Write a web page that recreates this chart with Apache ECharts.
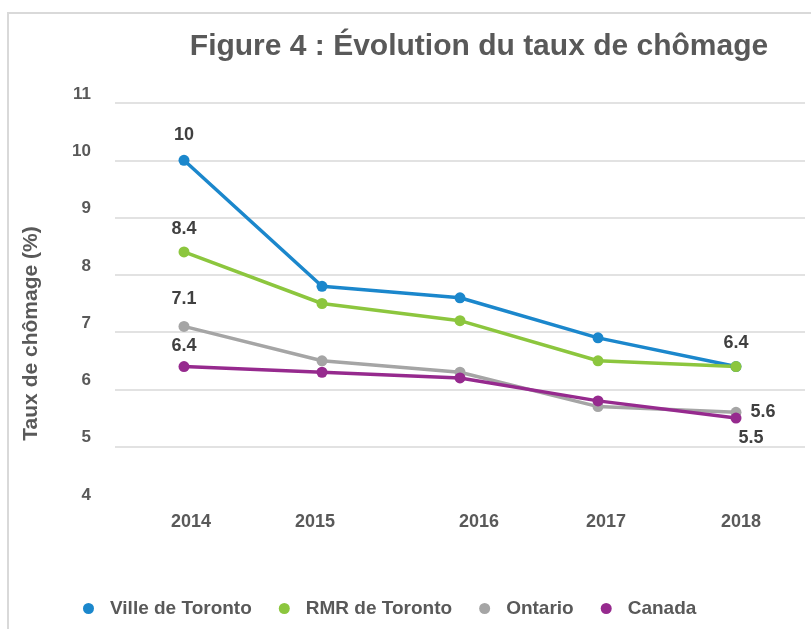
<!DOCTYPE html>
<html>
<head>
<meta charset="utf-8">
<script src="https://cdn.jsdelivr.net/npm/echarts@6/dist/echarts.min.js"></script>
<style>
  html, body { margin: 0; padding: 0; background: #fff; }
  #chart { width: 811px; height: 629px; }
</style>
</head>
<body>
<div id="chart"></div>
<script>
const years = ['2014', '2015', '2016', '2017', '2018'];
const villeToronto = [10, 7.8, 7.6, 6.9, 6.4];
const rmrToronto = [8.4, 7.5, 7.2, 6.5, 6.4];
const ontario = [7.1, 6.5, 6.3, 5.7, 5.6];
const canada = [6.4, 6.3, 6.2, 5.8, 5.5];
const yTicks = [4, 5, 6, 7, 8, 9, 10, 11];

const font = '"Liberation Sans", Arial, sans-serif';
const labelStyle = { show: true, color: '#404040', fontSize: 18, fontWeight: 'bold', fontFamily: font };

// year labels in the original sit a little off their points
const xShift = [7, -7, 19, 8, 5];
const xRich = {};
xShift.forEach((s, i) => {
    xRich['p' + i] = { padding: s > 0 ? [0, 0, 0, 2 * s] : [0, -2 * s, 0, 0] };
});

// only a few points carry a value label
function withLabels(values, labels) {
    return values.map((v, i) => {
        if (!labels[i]) return v;
        return { value: v, label: Object.assign({}, labelStyle, labels[i]) };
    });
}

function line(name, color, data) {
    return {
        name: name,
        type: 'line',
        data: data,
        symbol: 'circle',
        symbolSize: 11,
        lineStyle: { color: color, width: 3.5 },
        itemStyle: { color: color },
        label: { show: false },
        emphasis: { disabled: true }
    };
}

const chart = echarts.init(document.getElementById('chart'));
chart.setOption({
    animation: false,
    backgroundColor: '#fff',
    title: {
        text: 'Figure 4 : Évolution du taux de chômage',
        left: 474,
        textAlign: 'center',
        top: 27,
        textStyle: { color: '#595959', fontSize: 30, fontWeight: 'bold', fontFamily: font }
    },
    graphic: [{
        type: 'polyline',
        shape: { points: [[8, 640], [8, 13], [820, 13]] },
        style: { stroke: '#d9d9d9', lineWidth: 2, fill: null },
        silent: true
    }],
    legend: {
        top: 594,
        left: 78,
        itemGap: 27,
        icon: 'circle',
        itemWidth: 11,
        itemHeight: 11,
        textStyle: { color: '#595959', fontSize: 19, fontWeight: 'bold', fontFamily: font, padding: [0, 0, 0, 11] },
        data: ['Ville de Toronto', 'RMR de Toronto', 'Ontario', 'Canada']
    },
    grid: { left: 115, right: 6, top: 103, bottom: 125 },
    xAxis: {
        type: 'category',
        data: years,
        boundaryGap: true,
        axisLine: { show: false },
        axisTick: { show: false },
        axisLabel: {
            margin: 9,
            formatter: (v, i) => '{p' + i + '|' + v + '}',
            rich: xRich,
            color: '#595959', fontSize: 18, fontWeight: 'bold', fontFamily: font
        }
    },
    yAxis: {
        type: 'value',
        min: yTicks[0],
        max: yTicks[yTicks.length - 1],
        interval: 1,
        name: 'Taux de chômage (%)',
        nameLocation: 'middle',
        nameGap: 73,
        nameTextStyle: { color: '#595959', fontSize: 21, fontWeight: 'bold', fontFamily: font, padding: [0, 60, 0, 0] },
        axisLine: { show: false },
        axisTick: { show: false },
        axisLabel: {
            margin: 24,
            verticalAlign: 'bottom',
            lineHeight: 18,
            padding: [0, 0, 0, 0],
            color: '#595959', fontSize: 17, fontWeight: 'bold', fontFamily: font
        },
        splitLine: {
            lineStyle: {
                color: ['rgba(0,0,0,0)', '#d9d9d9', '#d9d9d9', '#d9d9d9', '#d9d9d9', '#d9d9d9', '#d9d9d9', '#d9d9d9'],
                width: 1.5
            }
        }
    },
    series: [
        line('Ville de Toronto', '#1b87cc', withLabels(villeToronto, [{ position: 'top', distance: 11 }])),
        line('RMR de Toronto', '#8cc63e', withLabels(rmrToronto, [{ position: 'top', distance: 8 }, null, null, null, { position: 'top', distance: 9 }])),
        line('Ontario', '#a5a5a5', withLabels(ontario, [{ position: 'top', distance: 13 }, null, null, null, { position: 'right', distance: 9 }])),
        line('Canada', '#962a8e', withLabels(canada, [{ position: 'top', distance: 6 }, null, null, null, { position: 'bottom', distance: 5, offset: [15, 0] }]))
    ]
});
</script>
</body>
</html>
